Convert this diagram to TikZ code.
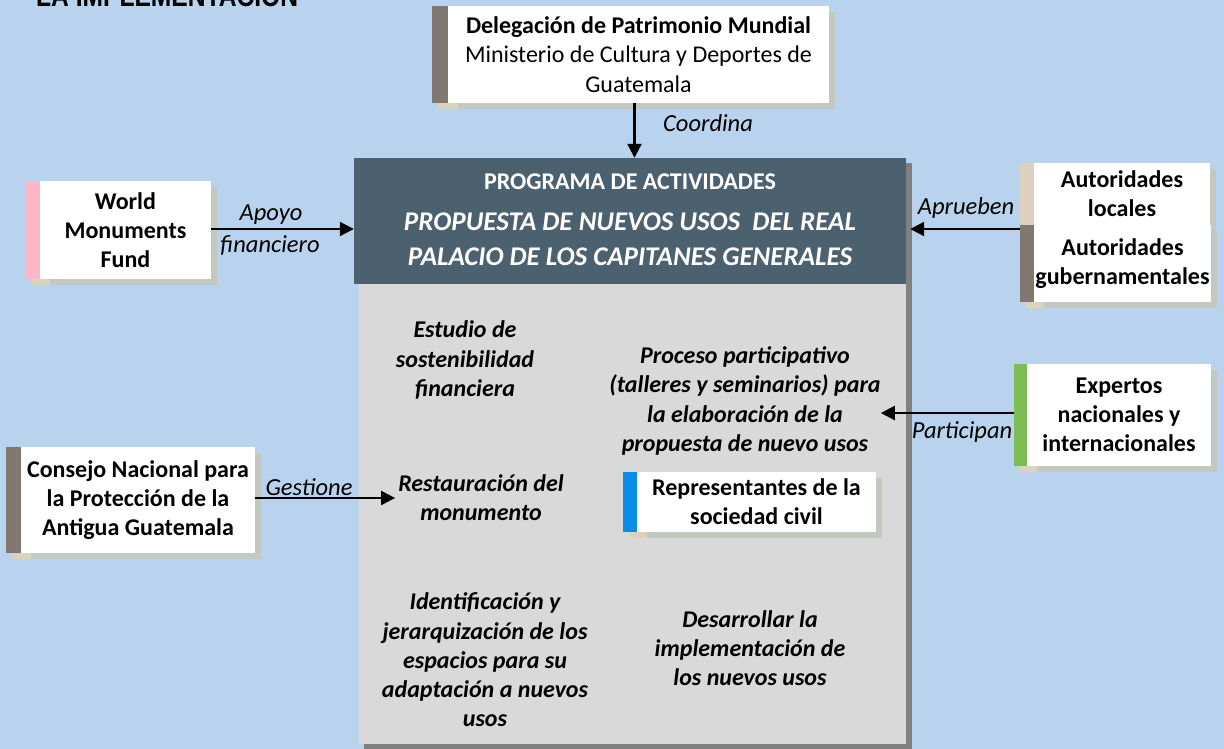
\documentclass[tikz,border=0pt]{standalone}
\usepackage{fontspec}
\setmainfont{Carlito}
\newfontfamily\titlefont{Liberation Sans}
\usetikzlibrary{arrows.meta,calc}
\definecolor{bg}{HTML}{B9D3EE}
\definecolor{hdrc}{HTML}{4B6170}
\definecolor{bodyg}{HTML}{D9D9D9}
\definecolor{shd}{HTML}{808080}
\definecolor{bxshd}{HTML}{C3C8C1}
\definecolor{bxshdb}{HTML}{DCD3BC}
\definecolor{barg}{HTML}{7F7770}
\definecolor{barpink}{HTML}{FFB6C8}
\definecolor{barbeige}{HTML}{DDD0BF}
\definecolor{bargreen}{HTML}{7CBD56}
\definecolor{barblue}{HTML}{0A8CEA}
\newcommand\entbox[8]{%
  \fill[bxshd] (#2+6,#4+6) rectangle (#5+6,#6+6);
  \fill[bxshdb] (#2+6,#4+6) rectangle (#3+10,#6+6);
  \fill[#7] (#2,#4) rectangle (#3,#6);
  \node[wbox, minimum width={#5-#3}, minimum height={#6-#4}] (#1) at ({(#3+#5)/2},{(#4+#6)/2}) {#8};
}
\begin{document}
\begin{tikzpicture}[x=1pt,y=-1pt,
  wbox/.style={fill=white, inner sep=0pt, align=center, font=\bfseries\fontsize{24}{29.3}\selectfont},
  btext/.style={align=center, inner sep=0pt, font=\bfseries\itshape\fontsize{24}{29.3}\selectfont},
  lbl/.style={inner sep=0pt, font=\itshape\fontsize{24.5}{29.3}\selectfont},
  arr/.style={line width=2.2pt, -{Triangle[length=14pt,width=14pt]}}]
\clip (0,0) rectangle (1224,749);
\fill[bg] (0,0) rectangle (1224,749);
\useasboundingbox (0,0) rectangle (1224,749);

% title (cut off at top)
\node[anchor=base west, inner sep=0pt] (title) at (36,7)
  {\titlefont\bfseries\fontsize{30}{30}\selectfont\scalebox{0.82}[1]{LA IMPLEMENTACIÓN}};

% main programme box
\fill[shd] (906,163) rectangle (912,760);
\fill[shd] (364,744) rectangle (912,760);
\node[fill=hdrc, minimum width=552, minimum height=126, inner sep=0pt] (hdr) at (630,221) {};
\node[fill=bodyg, minimum width=547, minimum height=460, inner sep=0pt] (body) at (632.5,514) {};
\node[text=white, inner sep=0pt, font=\bfseries\fontsize{24}{28}\selectfont] (hdrt1) at (630,182) {PROGRAMA DE ACTIVIDADES};
\node[text=white, inner sep=0pt, align=center, font=\bfseries\itshape\fontsize{27}{35}\selectfont] (hdrt2) at (630,239)
  {PROPUESTA DE NUEVOS USOS\ \ DEL REAL\\PALACIO DE LOS CAPITANES GENERALES};

% activities
\node[btext] (estudio) at (465,360) {Estudio de\\sostenibilidad\\financiera};
\node[btext] (proc) at (745,401) {Proceso participativo\\(talleres y seminarios) para\\la elaboración de la\\propuesta de nuevo usos};
\node[btext] (rest) at (481,498) {Restauración del\\monumento};
\node[btext] (ident) at (485,660) {Identificación y\\jerarquización de los\\espacios para su\\adaptación a nuevos\\usos};
\node[btext] (desar) at (750,648) {Desarrollar la\\implementación de\\los nuevos usos};

% actors
\entbox{deleg}{432}{448}{6}{829}{103}{barg}{Delegación de Patrimonio Mundial\\{\mdseries Ministerio de Cultura y Deportes de}\\{\mdseries Guatemala}}
\entbox{wmf}{25}{40}{181}{211}{279}{barpink}{World\\Monuments\\Fund}
\entbox{autloc}{1020}{1034}{163}{1210}{225}{barbeige}{Autoridades\\locales}
\entbox{autgov}{1020}{1034}{225}{1211}{302}{barg}{Autoridades\\gubernamentales}
\entbox{expert}{1014}{1027}{364}{1211}{466}{bargreen}{Expertos\\nacionales y\\internacionales}
\entbox{cons}{6}{21}{447}{255}{553}{barg}{Consejo Nacional para\\la Protección de la\\Antigua Guatemala}
\entbox{repr}{623}{637}{472}{876}{532}{barblue}{Representantes de la\\sociedad civil}

% connectors
\draw[arr] ([xshift=-4pt]deleg.south) -- ([xshift=-4pt]deleg.south |- hdr.north);
\node[lbl, anchor=west] (lcoord) at (663,123) {Coordina};

\draw[arr] ([yshift=1pt]wmf.east) -- ([yshift=1pt]wmf.east -| hdr.west);
\node[lbl] (lapoyo) at (271,215) {Apoyo};
\node[lbl] (lfin) at (270,245) {financiero};

\coordinate (autarr) at (1020,229);
\draw[arr] (autarr) -- ([xshift=4pt]autarr -| hdr.east);
\node[lbl] (laprueben) at (966,208) {Aprueben};

\coordinate (exparr) at (1014,413);
\draw[arr] (exparr) -- (exparr -| proc.east);
\node[lbl] (lpart) at (962,432) {Participan};

\draw[arr] ([yshift=2pt]cons.east) -- ([yshift=2pt,xshift=-3pt]cons.east -| rest.west);
\node[lbl] (lgest) at (309,487) {Gestione};
\end{tikzpicture}
\end{document}
